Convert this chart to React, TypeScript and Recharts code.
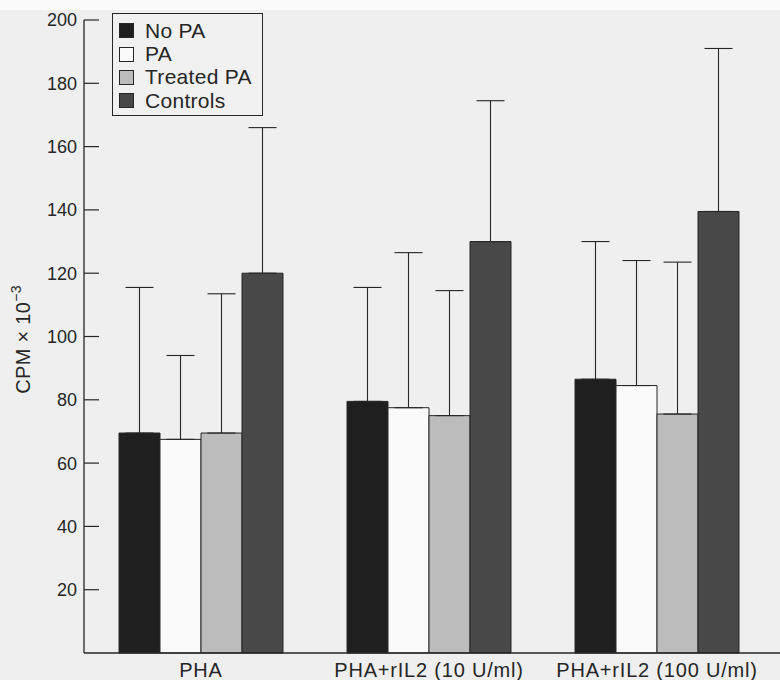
import React from 'react';
import { BarChart, Bar, XAxis, YAxis, ErrorBar, Label } from 'recharts';

const categories = ['PHA', 'PHA+rIL2 (10 U/ml)', 'PHA+rIL2 (100 U/ml)'];
const noPA = [69.5, 79.5, 86.5];
const noPAErr = [46, 36, 43.5];
const pa = [67.5, 77.5, 84.5];
const paErr = [26.5, 49, 39.5];
const treatedPA = [69.5, 75, 75.5];
const treatedPAErr = [44, 39.5, 48];
const controls = [120, 130, 139.5];
const controlsErr = [46, 44.5, 51.5];
const yTicks = [20, 40, 60, 80, 100, 120, 140, 160, 180, 200];

const seriesKeys = ['noPA', 'pa', 'treatedPA', 'controls'];
const seriesNames = ['No PA', 'PA', 'Treated PA', 'Controls'];
const seriesColors = ['#1f1f1f', '#fafafa', '#bcbcbc', '#484848'];

const data = categories.map((c, i) => ({
  name: c,
  noPA: noPA[i],
  noPAErr: [0, noPAErr[i]],
  pa: pa[i],
  paErr: [0, paErr[i]],
  treatedPA: treatedPA[i],
  treatedPAErr: [0, treatedPAErr[i]],
  controls: controls[i],
  controlsErr: [0, controlsErr[i]],
}));

const FONT = '"Liberation Sans", Arial, Helvetica, sans-serif';
const INK = '#262626';

const YTick = (props: any) => {
  const { x, y, payload } = props;
  return (
    <g>
      <line x1={x + 7} x2={x + 22} y1={y} y2={y} stroke={INK} strokeWidth={1.2} />
      <text x={x} y={y} dy="0.36em" textAnchor="end" fontSize={18} fontFamily={FONT} fill={INK}>
        {payload.value}
      </text>
    </g>
  );
};

const XTick = (props: any) => {
  const { x, y, payload } = props;
  return (
    <text x={x} y={y} dy="0.71em" textAnchor="middle" fontSize={20} letterSpacing={0.8} fontFamily={FONT} fill={INK}>
      {payload.value}
    </text>
  );
};

const YLabel = (props: any) => {
  const vb = props.viewBox || { x: 0, y: 0, width: 0, height: 0 };
  const cx = vb.x + 30;
  const cy = vb.y + vb.height / 2 + 3;
  return (
    <text
      x={cx}
      y={cy}
      transform={`rotate(-90, ${cx}, ${cy})`}
      textAnchor="middle"
      fontSize={20}
      letterSpacing={0.3}
      fontFamily={FONT}
      fill={INK}
    >
      CPM × 10
      <tspan dy={-9} fontSize={14}>−3</tspan>
    </text>
  );
};

const LegendBox = () => (
  <div
    style={{
      position: 'absolute',
      left: 112,
      top: 13,
      width: 151,
      height: 103,
      border: `1.3px solid ${INK}`,
      boxSizing: 'border-box',
      background: '#f1f1f1',
      fontFamily: FONT,
      fontSize: 21,
      letterSpacing: 0.3,
      color: INK,
      paddingTop: 5,
    }}
  >
    {seriesNames.map((n, i) => (
      <div key={n} style={{ display: 'flex', alignItems: 'center', height: 23.4, marginLeft: 6 }}>
        <div
          style={{
            width: 15,
            height: 15,
            background: seriesColors[i],
            border: `1px solid ${INK}`,
            boxSizing: 'border-box',
            marginRight: 11,
            flex: 'none',
          }}
        />
        <span style={{ lineHeight: '20px', whiteSpace: 'nowrap' }}>{n}</span>
      </div>
    ))}
  </div>
);

export default function App() {
  return (
    <div style={{ position: 'absolute', left: 0, top: 0, width: 780, height: 680, background: '#efefef', overflow: 'hidden' }}>
      <div style={{ position: 'absolute', left: 0, top: 0, width: 780, height: 10, background: '#fbfbfb' }} />
      <div style={{ position: 'absolute', left: 0, top: 0 }}>
        <BarChart
          width={780}
          height={680}
          data={data}
          margin={{ top: 20, right: 0, bottom: 0, left: 0 }}
          barGap={0}
          barSize={41}
        >
          <XAxis
            dataKey="name"
            height={27}
            tickLine={false}
            tickSize={0}
            tickMargin={10}
            padding={{ left: 3, right: 9 }}
            axisLine={{ stroke: INK, strokeWidth: 1.3 }}
            tick={<XTick />}
            interval={0}
          />
          <YAxis
            width={84}
            domain={[0, 200]}
            ticks={yTicks}
            tickLine={false}
            tickSize={0}
            tickMargin={7}
            axisLine={{ stroke: INK, strokeWidth: 1.3 }}
            tick={<YTick />}
            interval={0}
          >
            <Label content={<YLabel />} />
          </YAxis>
          {seriesKeys.map((k, i) => (
            <Bar
              key={k}
              dataKey={k}
              name={seriesNames[i]}
              fill={seriesColors[i]}
              stroke={INK}
              strokeWidth={1}
              isAnimationActive={false}
            >
              <ErrorBar dataKey={`${k}Err`} width={14} stroke={INK} strokeWidth={1.1} direction="y" />
            </Bar>
          ))}
        </BarChart>
      </div>
      <LegendBox />
    </div>
  );
}
